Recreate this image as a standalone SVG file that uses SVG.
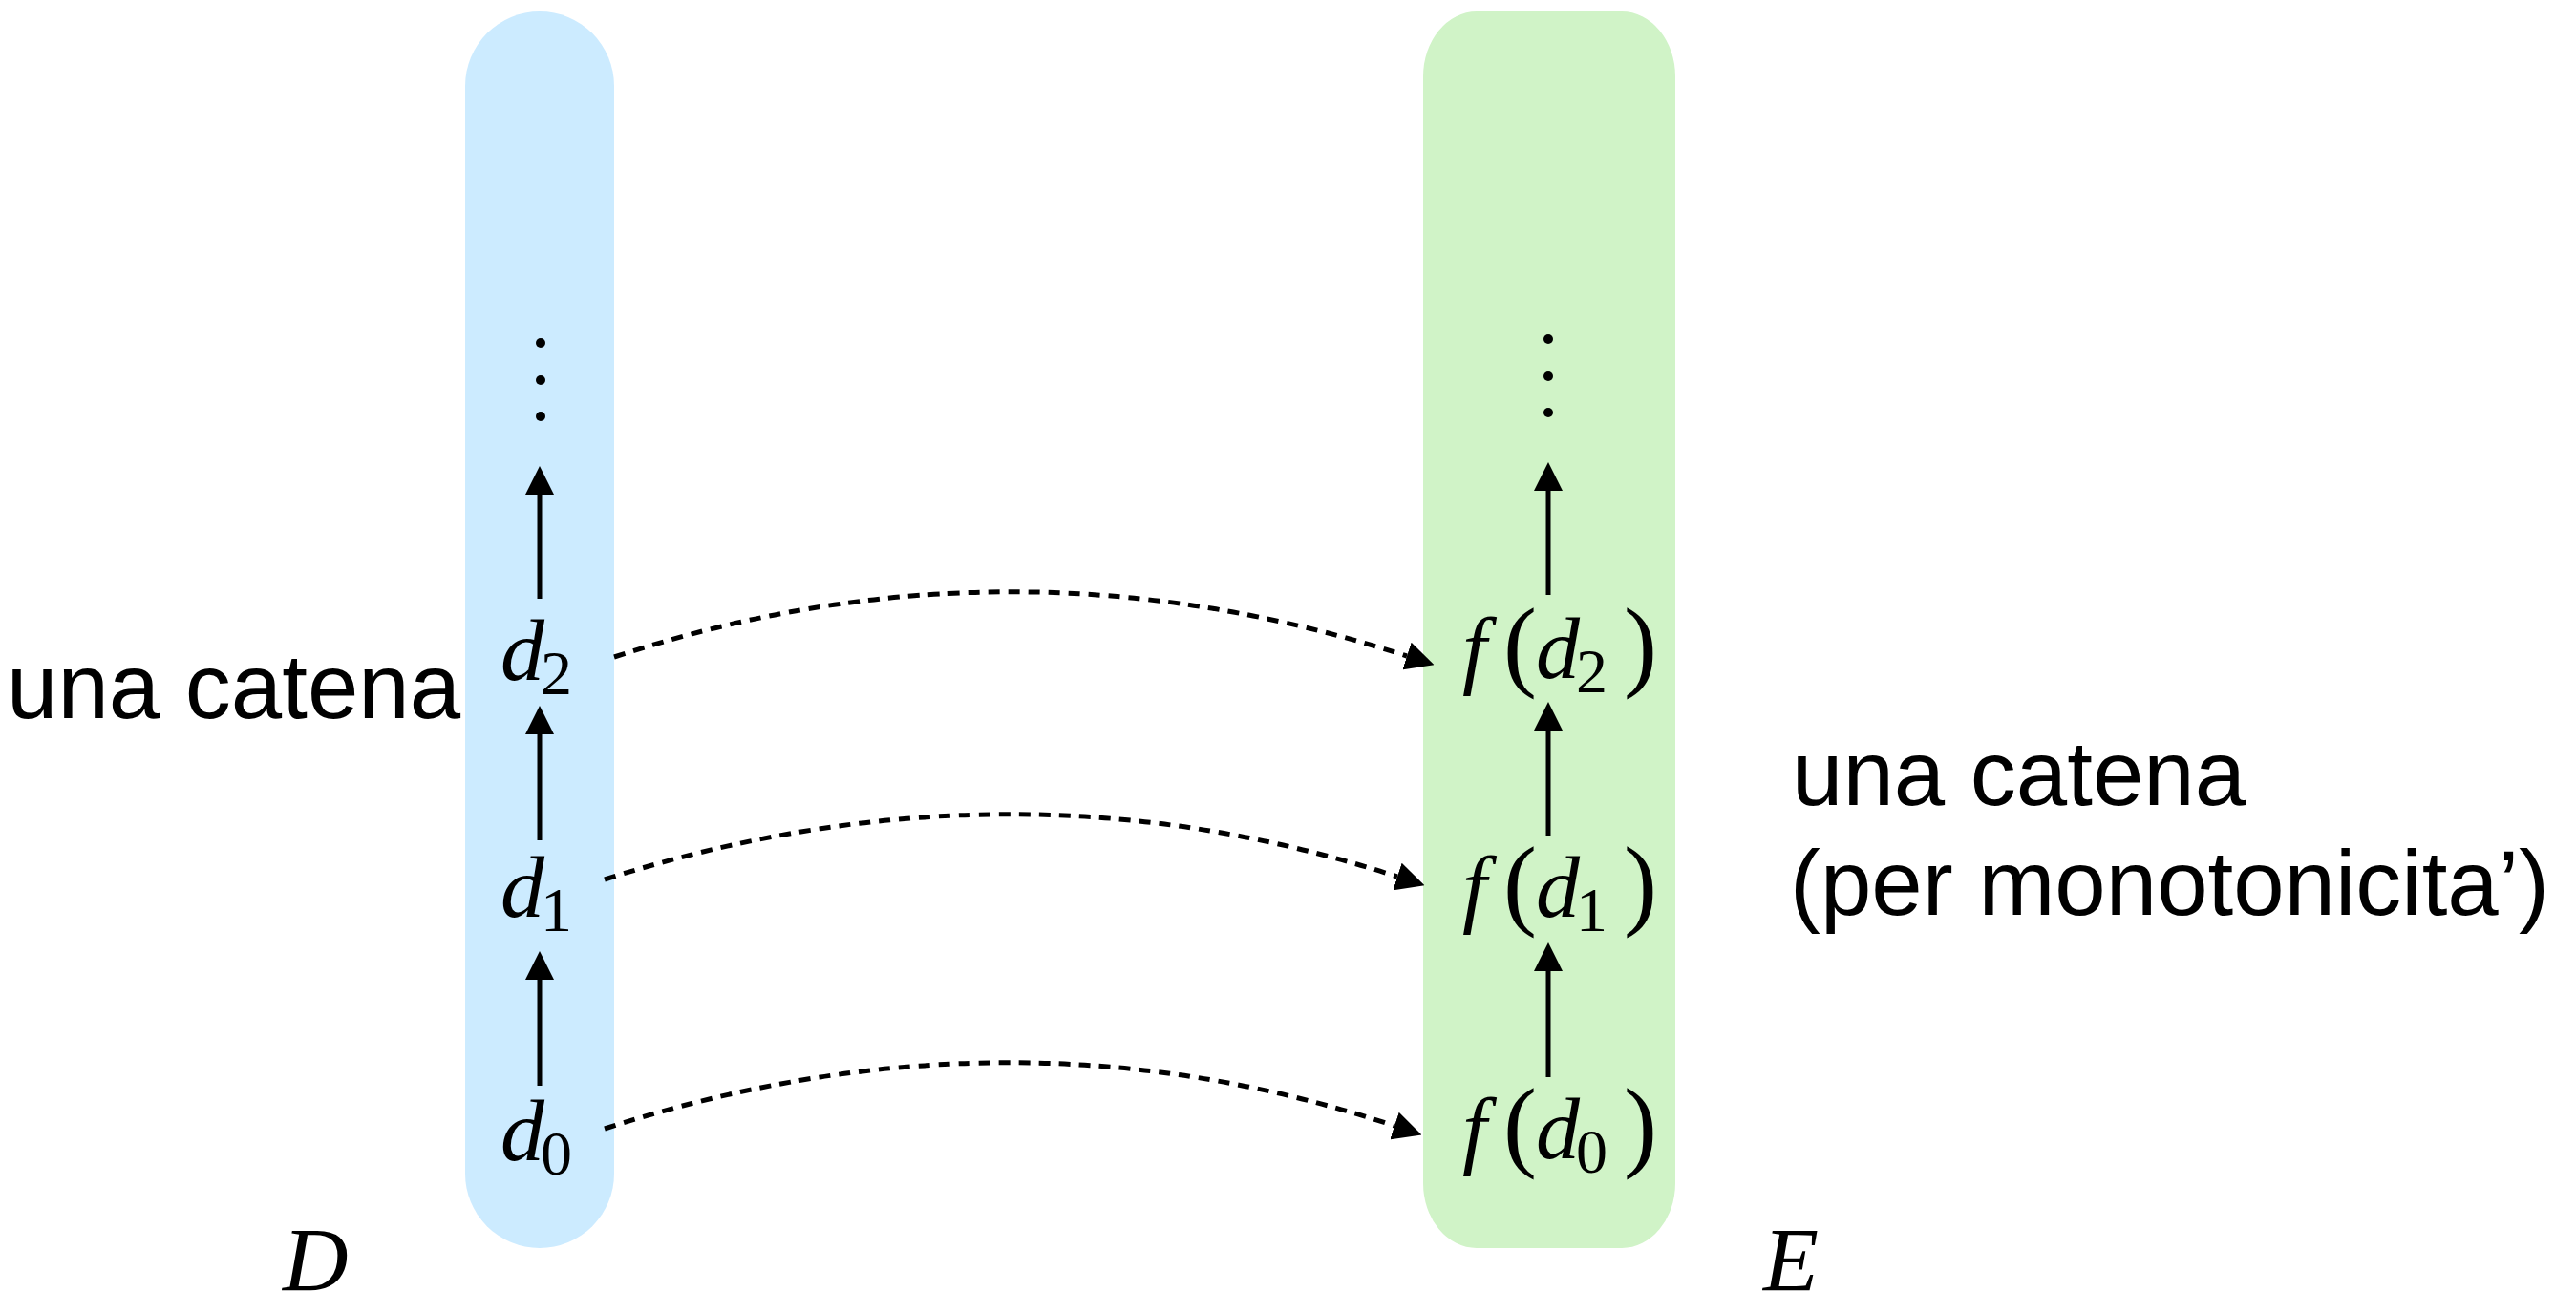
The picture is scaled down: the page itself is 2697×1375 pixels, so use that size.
<svg xmlns="http://www.w3.org/2000/svg" width="2697" height="1375" viewBox="0 0 2697 1375">
<style>
.lbl{font-family:"Liberation Sans",Arial,Helvetica,sans-serif;font-size:96px;fill:#000}
.m{font-family:"Liberation Serif","Times New Roman",serif;font-style:italic;font-size:92px;fill:#000}
.sub{font-family:"Liberation Serif","Times New Roman",serif;font-size:66px;fill:#000}
.par{font-family:"Liberation Serif","Times New Roman",serif;font-size:105px;fill:#000}
.up{stroke:#000;stroke-width:5;fill:none}
.dash{stroke:#000;stroke-width:5;fill:none;stroke-dasharray:12 9}
.dot{fill:#000}
</style>
<defs>
<marker id="ah" markerUnits="userSpaceOnUse" markerWidth="30" markerHeight="30" viewBox="0 -13 26 26" refX="0" refY="0" orient="auto">
<path d="M0,-13 L26,0 L0,13 z" fill="#000"/>
</marker>
</defs>
<rect width="2697" height="1375" fill="#fff"/>

<g id="setD">
<rect x="487" y="12" width="156" height="1295" rx="78" ry="78" fill="#CCEBFF"/>
</g>
<g id="setE">
<rect x="1490" y="12" width="264" height="1295" rx="56" ry="68" fill="#D0F3C7"/>
</g>

<g id="d0"><text class="m" x="524" y="1215">d</text><text class="sub" x="566" y="1230">0</text></g>
<g id="d1"><text class="m" x="524" y="960">d</text><text class="sub" x="566" y="975">1</text></g>
<g id="d2"><text class="m" x="524" y="712">d</text><text class="sub" x="566" y="727">2</text></g>
<g id="dotsD"><circle class="dot" cx="566" cy="359" r="5"/><circle class="dot" cx="566" cy="398" r="5"/><circle class="dot" cx="566" cy="436" r="5"/></g>

<g id="fd0"><text class="m" x="1531" y="1213">f</text><text class="par" x="1574" y="1213">(</text><text class="m" x="1608" y="1213">d</text><text class="sub" x="1650" y="1228">0</text><text class="par" x="1700" y="1213">)</text></g>
<g id="fd1"><text class="m" x="1531" y="960">f</text><text class="par" x="1574" y="960">(</text><text class="m" x="1608" y="960">d</text><text class="sub" x="1650" y="975">1</text><text class="par" x="1700" y="960">)</text></g>
<g id="fd2"><text class="m" x="1531" y="710">f</text><text class="par" x="1574" y="710">(</text><text class="m" x="1608" y="710">d</text><text class="sub" x="1650" y="725">2</text><text class="par" x="1700" y="710">)</text></g>
<g id="dotsE"><circle class="dot" cx="1621" cy="355" r="5"/><circle class="dot" cx="1621" cy="394" r="5"/><circle class="dot" cx="1621" cy="432" r="5"/></g>

<g id="labels">
<text class="lbl" x="7" y="752">una catena</text>
<text class="lbl" x="1876" y="843">una catena</text>
<text class="lbl" x="1874" y="958">(per monotonicita’)</text>
<text class="m" x="296" y="1352" style="font-size:95px">D</text>
<text class="m" x="1846" y="1352" style="font-size:95px">E</text>
</g>

<g id="connectors">
<line class="up" x1="565" y1="1137" x2="565" y2="1026" marker-end="url(#ah)"/>
<line class="up" x1="565" y1="880" x2="565" y2="769" marker-end="url(#ah)"/>
<line class="up" x1="565" y1="627" x2="565" y2="518" marker-end="url(#ah)"/>
<line class="up" x1="1621" y1="1128" x2="1621" y2="1017" marker-end="url(#ah)"/>
<line class="up" x1="1621" y1="875" x2="1621" y2="765" marker-end="url(#ah)"/>
<line class="up" x1="1621" y1="623" x2="1621" y2="514" marker-end="url(#ah)"/>
<path class="dash" d="M643,688 Q1056,552 1473,687" marker-end="url(#ah)"/>
<path class="dash" d="M633,921 Q1056,786 1463,918" marker-end="url(#ah)"/>
<path class="dash" d="M633,1182 Q1056,1045 1460,1179" marker-end="url(#ah)"/>
</g>
</svg>
